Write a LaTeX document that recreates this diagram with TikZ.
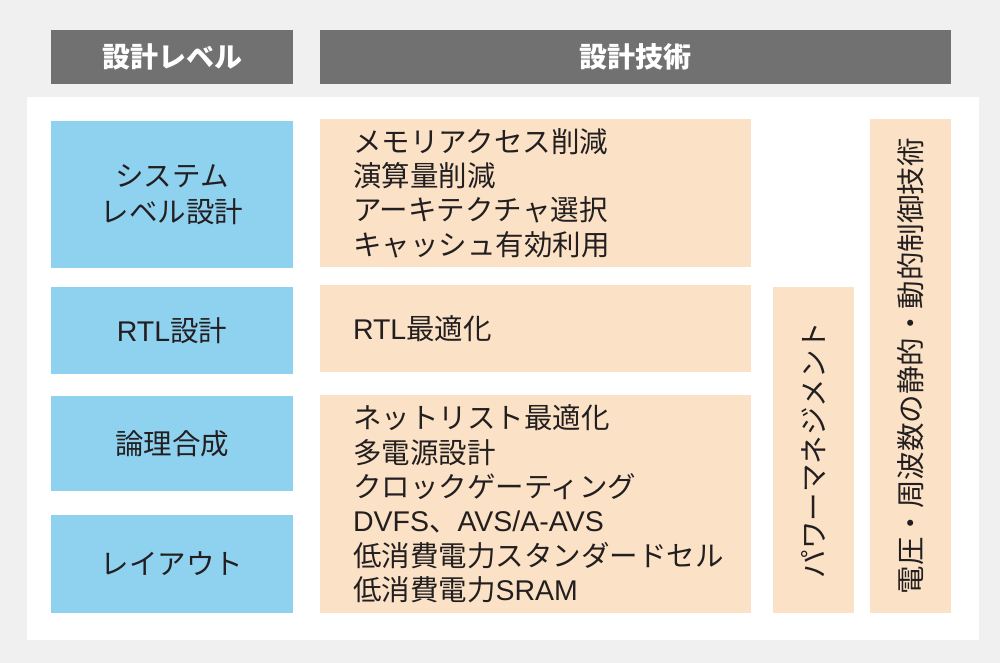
\documentclass[tikz,border=0pt]{standalone}
\usepackage{fontspec}
\setmainfont{Noto Sans CJK JP}
\newfontfamily\latinfont{Liberation Sans}
\newcommand{\lat}[1]{{\latinfont #1}}
\definecolor{bggray}{HTML}{F0F0F0}
\definecolor{headgray}{HTML}{717171}
\definecolor{lvlblue}{HTML}{8FD2F0}
\definecolor{techpeach}{HTML}{FBE2C6}
\definecolor{ink}{HTML}{231F20}
\tikzset{
  head/.style={fill=headgray,text=white,font=\fontsize{28}{32}\selectfont\bfseries,inner sep=0pt},
  lvl/.style={fill=lvlblue,text=ink,font=\fontsize{28.5}{36}\selectfont,align=center,inner sep=0pt},
  tech/.style={fill=techpeach,text=ink,font=\fontsize{28.5}{34.4}\selectfont,align=left,inner xsep=33pt,inner ysep=0pt,text width=365pt},
  vtech/.style={fill=techpeach,text=ink,font=\fontsize{28.5}{34}\selectfont,inner sep=0pt}
}
\begin{document}
\begin{tikzpicture}[x=1pt,y=-1pt]
\useasboundingbox (0,0) rectangle (1000,663);
\fill[bggray] (0,0) rectangle (1000,663);
\fill[white] (27,97) rectangle (979,640);
% headers
\node[head,minimum width=242pt,minimum height=54pt] (hlvl) at (172,57) {設計レベル};
\node[head,minimum width=631pt,minimum height=54pt] (htech) at (635.5,57) {設計技術};
% design levels
\node[lvl,minimum width=242pt,minimum height=147pt] (sys) at (172,194.5) {システム\\レベル設計};
\node[lvl,minimum width=242pt,minimum height=87pt] (rtl) at (172,330.5) {\lat{RTL}設計};
\node[lvl,minimum width=242pt,minimum height=95pt] (syn) at (172,443.5) {論理合成};
\node[lvl,minimum width=242pt,minimum height=98pt] (lay) at (172,564) {レイアウト};
% techniques
\node[tech,minimum width=431pt,minimum height=148pt] (t1) at (535.5,193) {メモリアクセス削減\\演算量削減\\アーキテクチャ選択\\キャッシュ有効利用};
\node[tech,minimum width=431pt,minimum height=87pt] (t2) at (535.5,328.5) {\lat{RTL}最適化};
\node[tech,minimum width=431pt,minimum height=218pt] (t3) at (535.5,504) {ネットリスト最適化\\多電源設計\\クロックゲーティング\\\lat{DVFS}、\lat{AVS/A-AVS}\\低消費電力スタンダードセル\\低消費電力\lat{SRAM}};
\node[vtech,minimum width=81pt,minimum height=326pt] (pm) at (813.5,450) {};
\node[rotate=90,text=ink,font=\fontsize{28.5}{34}\selectfont] (pmtext) at (pm.center) {パワーマネジメント};
\node[vtech,minimum width=81pt,minimum height=494pt] (dvfs) at (910.5,366) {};
\node[rotate=90,text=ink,font=\fontsize{28.5}{34}\selectfont] (dvfstext) at (dvfs.center) {電圧・周波数の静的・動的制御技術};
\end{tikzpicture}
\end{document}
